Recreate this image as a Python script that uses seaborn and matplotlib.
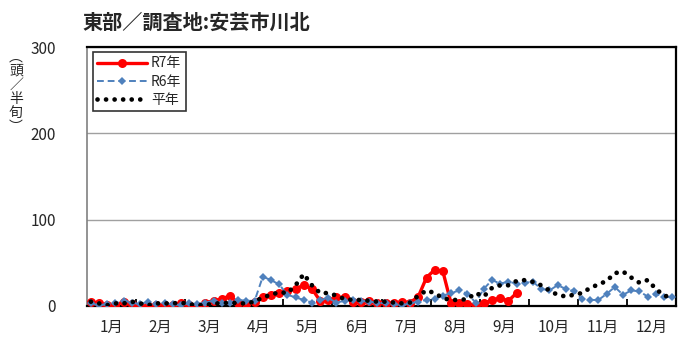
import numpy as np
import pandas as pd
import seaborn as sns
import matplotlib.pyplot as plt

# 半旬ごとの誘殺数（1月第1半旬〜12月第6半旬, 72区分）
months = ['1月', '2月', '3月', '4月', '5月', '6月', '7月', '8月', '9月', '10月', '11月', '12月']
r7 = [5, 3, 1, 1, 5, 2, 0, 0, 1, 1, 1, 3, 1, 0, 4, 6, 8, 12,
      3, 2, 5, 10, 13, 15, 17, 20, 24, 20, 6, 7, 10, 10, 5, 5, 6, 4, 4, 3, 5, 4,
      11, 33, 42, 40, 3, 3, 2, 1, 3, 7, 9, 6, 15]
r6 = [3, 1, 2, 3, 6, 4, 2, 5, 2, 3, 2, 1, 3, 2, 4, 6, 3, 4,
      7, 6, 6, 34, 30, 25, 13, 10, 7, 4, 7, 9, 4, 6, 7, 6, 5, 4, 3, 2, 1, 3,
      5, 7, 8, 12, 15, 18, 14, 4, 20, 30, 26, 28, 26, 27, 28, 20,
      18, 24, 20, 17, 8, 7, 7, 14, 22, 13, 18, 17, 11, 14, 11, 10]
heinen = [5, 3, 1, 3, 3, 5, 3, 1, 3, 3, 3, 4, 2, 1, 1, 3, 3, 4, 3,
          3, 5, 10, 13, 16, 15, 24, 37, 24, 15, 15, 12, 8, 7, 7, 6, 5, 5, 4, 3,
          4, 12, 18, 15, 9, 7, 7, 8, 15, 11, 21, 24, 24, 29, 30, 28, 24,
          18, 13, 11, 13, 15, 21, 25, 29, 38, 40, 33, 27, 30, 20, 12, 10]

sns.set_theme(style="white")
plt.rcParams['font.family'] = ['Noto Sans CJK JP', 'DejaVu Sans']

fig = plt.figure(figsize=(7, 3.54), dpi=100)
ax = fig.add_axes([0.124, 0.1356, 0.842, 0.7314])

sns.lineplot(x=np.arange(len(r7)), y=r7, ax=ax, color='#FF0000', linewidth=2.4,
             marker='o', markersize=6.5, markeredgewidth=0, label='R7年', zorder=3)
sns.lineplot(x=np.arange(len(r6)), y=r6, ax=ax, color='#4F81BD', linewidth=1.4,
             linestyle=(0, (3.5, 2)), marker='D', markersize=4.5, markeredgewidth=0,
             label='R6年', zorder=4)
line_h, = ax.plot(np.arange(len(heinen)), heinen, color='black', linewidth=3.4,
                  linestyle=(0, (0.01, 1.8)), dash_capstyle='round', label='平年', zorder=5)

ax.set_xlim(-0.5, 71.5)
ax.set_ylim(0, 300)
ax.set_yticks([0, 100, 200, 300])
ax.yaxis.grid(True, color='#A0A0A0', linewidth=1)
ax.set_axisbelow(True)

ax.set_xticks(np.arange(2.5, 72, 6))
ax.set_xticklabels(months)
ax.set_xticks(np.arange(5.5, 66, 6), minor=True)
ax.tick_params(axis='x', which='major', length=0, pad=9, labelsize=11)
ax.tick_params(axis='x', which='minor', direction='in', length=5, width=1.3,
               bottom=True, color='black')
ax.tick_params(axis='y', length=0, pad=22, labelsize=11)
ax.set_xlabel('')
ax.set_ylabel('')

for name, sp in ax.spines.items():
    sp.set_visible(True)
    sp.set_color('black')
    sp.set_linewidth(1.6)
ax.spines['left'].set_color('#808080')
ax.spines['left'].set_linewidth(1.2)

leg = ax.legend(loc='upper left', bbox_to_anchor=(0.01, 0.98), borderaxespad=0,
                fontsize=10, handlelength=3.6, frameon=True, fancybox=False,
                labelspacing=0.3, borderpad=0.3, handletextpad=0.3)
leg.get_frame().set_edgecolor('black')
leg.get_frame().set_linewidth(1.2)

fig.text(82 / 700, 1 - 22 / 354, '東部／調査地:安芸市川北', ha='left', va='center',
         fontsize=14.5, fontweight='bold')
fig.text(16 / 700, 1 - 92 / 354, '︵\n頭\n／\n半\n旬\n︶', ha='center', va='center',
         fontsize=10, linespacing=1.0)

fig.savefig('out.png', dpi=100)
